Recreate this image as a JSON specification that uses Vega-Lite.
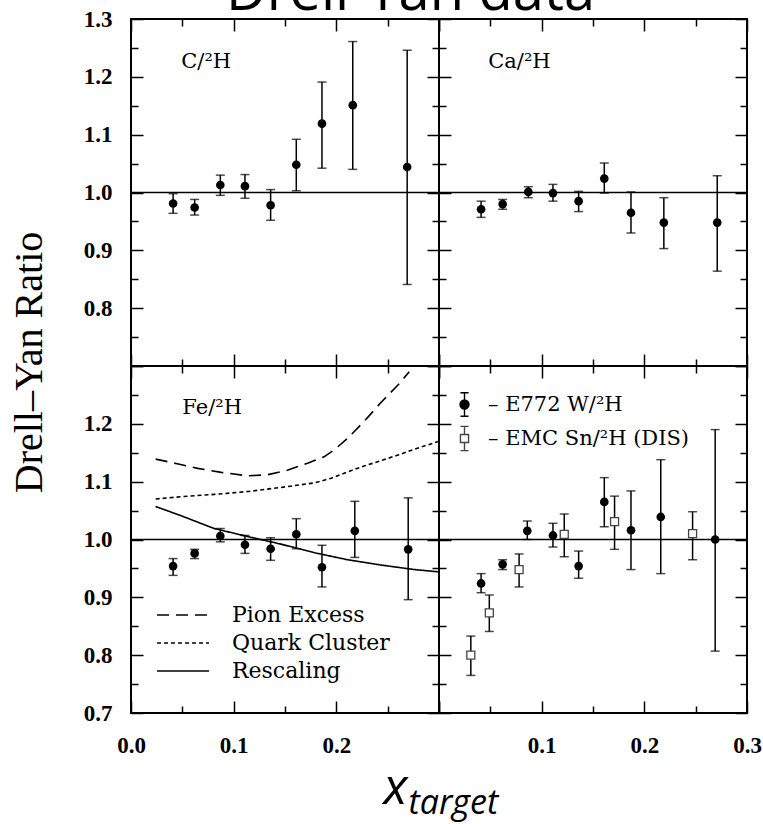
{
  "$schema": "https://vega.github.io/schema/vega-lite/v6.json",
  "background": "white",
  "padding": {"left": 8, "top": -35, "right": 10, "bottom": 5},
  "title": {"text": "Drell-Yan data", "font": "Open Sans", "fontSize": 56, "fontWeight": "normal", "color": "black", "anchor": "start", "frame": "group", "baseline": "alphabetic", "offset": -59, "dx": 95},
  "datasets": {
    "dy": [
      {"panel": "C", "series": "E772", "x": 0.041, "y": 0.981, "lo": 0.964, "hi": 0.998},
      {"panel": "C", "series": "E772", "x": 0.062, "y": 0.974, "lo": 0.961, "hi": 0.988},
      {"panel": "C", "series": "E772", "x": 0.087, "y": 1.013, "lo": 0.995, "hi": 1.030},
      {"panel": "C", "series": "E772", "x": 0.111, "y": 1.011, "lo": 0.990, "hi": 1.031},
      {"panel": "C", "series": "E772", "x": 0.136, "y": 0.978, "lo": 0.952, "hi": 1.005},
      {"panel": "C", "series": "E772", "x": 0.161, "y": 1.048, "lo": 1.003, "hi": 1.092},
      {"panel": "C", "series": "E772", "x": 0.186, "y": 1.119, "lo": 1.042, "hi": 1.191},
      {"panel": "C", "series": "E772", "x": 0.216, "y": 1.151, "lo": 1.040, "hi": 1.261},
      {"panel": "C", "series": "E772", "x": 0.269, "y": 1.044, "lo": 0.841, "hi": 1.246},
      {"panel": "Ca", "series": "E772", "x": 0.041, "y": 0.971, "lo": 0.957, "hi": 0.985},
      {"panel": "Ca", "series": "E772", "x": 0.062, "y": 0.980, "lo": 0.971, "hi": 0.988},
      {"panel": "Ca", "series": "E772", "x": 0.087, "y": 1.001, "lo": 0.991, "hi": 1.010},
      {"panel": "Ca", "series": "E772", "x": 0.111, "y": 0.999, "lo": 0.985, "hi": 1.014},
      {"panel": "Ca", "series": "E772", "x": 0.136, "y": 0.985, "lo": 0.967, "hi": 1.002},
      {"panel": "Ca", "series": "E772", "x": 0.161, "y": 1.024, "lo": 0.999, "hi": 1.051},
      {"panel": "Ca", "series": "E772", "x": 0.187, "y": 0.965, "lo": 0.930, "hi": 1.001},
      {"panel": "Ca", "series": "E772", "x": 0.219, "y": 0.948, "lo": 0.903, "hi": 0.991},
      {"panel": "Ca", "series": "E772", "x": 0.271, "y": 0.948, "lo": 0.864, "hi": 1.029},
      {"panel": "Fe", "series": "E772", "x": 0.041, "y": 0.954, "lo": 0.938, "hi": 0.967},
      {"panel": "Fe", "series": "E772", "x": 0.062, "y": 0.976, "lo": 0.967, "hi": 0.983},
      {"panel": "Fe", "series": "E772", "x": 0.087, "y": 1.006, "lo": 0.996, "hi": 1.019},
      {"panel": "Fe", "series": "E772", "x": 0.111, "y": 0.991, "lo": 0.976, "hi": 1.007},
      {"panel": "Fe", "series": "E772", "x": 0.136, "y": 0.984, "lo": 0.964, "hi": 1.003},
      {"panel": "Fe", "series": "E772", "x": 0.161, "y": 1.009, "lo": 0.984, "hi": 1.036},
      {"panel": "Fe", "series": "E772", "x": 0.186, "y": 0.952, "lo": 0.918, "hi": 0.990},
      {"panel": "Fe", "series": "E772", "x": 0.218, "y": 1.015, "lo": 0.969, "hi": 1.066},
      {"panel": "Fe", "series": "E772", "x": 0.270, "y": 0.983, "lo": 0.896, "hi": 1.072},
      {"panel": "W", "series": "– E772 W/²H", "x": 0.041, "y": 0.924, "lo": 0.908, "hi": 0.941},
      {"panel": "W", "series": "– E772 W/²H", "x": 0.062, "y": 0.957, "lo": 0.948, "hi": 0.965},
      {"panel": "W", "series": "– E772 W/²H", "x": 0.086, "y": 1.015, "lo": 1.000, "hi": 1.032},
      {"panel": "W", "series": "– E772 W/²H", "x": 0.111, "y": 1.007, "lo": 0.987, "hi": 1.028},
      {"panel": "W", "series": "– E772 W/²H", "x": 0.136, "y": 0.954, "lo": 0.933, "hi": 0.980},
      {"panel": "W", "series": "– E772 W/²H", "x": 0.161, "y": 1.065, "lo": 1.022, "hi": 1.107},
      {"panel": "W", "series": "– E772 W/²H", "x": 0.187, "y": 1.016, "lo": 0.948, "hi": 1.084},
      {"panel": "W", "series": "– E772 W/²H", "x": 0.216, "y": 1.039, "lo": 0.941, "hi": 1.138},
      {"panel": "W", "series": "– E772 W/²H", "x": 0.269, "y": 1.000, "lo": 0.807, "hi": 1.190},
      {"panel": "W", "series": "– EMC Sn/²H (DIS)", "x": 0.031, "y": 0.800, "lo": 0.765, "hi": 0.833},
      {"panel": "W", "series": "– EMC Sn/²H (DIS)", "x": 0.049, "y": 0.873, "lo": 0.841, "hi": 0.904},
      {"panel": "W", "series": "– EMC Sn/²H (DIS)", "x": 0.078, "y": 0.948, "lo": 0.918, "hi": 0.975},
      {"panel": "W", "series": "– EMC Sn/²H (DIS)", "x": 0.122, "y": 1.009, "lo": 0.970, "hi": 1.044},
      {"panel": "W", "series": "– EMC Sn/²H (DIS)", "x": 0.171, "y": 1.031, "lo": 0.983, "hi": 1.075},
      {"panel": "W", "series": "– EMC Sn/²H (DIS)", "x": 0.247, "y": 1.010, "lo": 0.965, "hi": 1.048}
    ],
    "curves": [
      {"model": "Pion Excess", "x": 0.024, "y": 1.139},
      {"model": "Pion Excess", "x": 0.045, "y": 1.131},
      {"model": "Pion Excess", "x": 0.065, "y": 1.123},
      {"model": "Pion Excess", "x": 0.088, "y": 1.116},
      {"model": "Pion Excess", "x": 0.114, "y": 1.110},
      {"model": "Pion Excess", "x": 0.133, "y": 1.112},
      {"model": "Pion Excess", "x": 0.153, "y": 1.120},
      {"model": "Pion Excess", "x": 0.172, "y": 1.132},
      {"model": "Pion Excess", "x": 0.188, "y": 1.143},
      {"model": "Pion Excess", "x": 0.198, "y": 1.155},
      {"model": "Pion Excess", "x": 0.211, "y": 1.175},
      {"model": "Pion Excess", "x": 0.227, "y": 1.204},
      {"model": "Pion Excess", "x": 0.243, "y": 1.236},
      {"model": "Pion Excess", "x": 0.260, "y": 1.267},
      {"model": "Pion Excess", "x": 0.271, "y": 1.290},
      {"model": "Quark Cluster", "x": 0.024, "y": 1.070},
      {"model": "Quark Cluster", "x": 0.049, "y": 1.074},
      {"model": "Quark Cluster", "x": 0.081, "y": 1.078},
      {"model": "Quark Cluster", "x": 0.114, "y": 1.083},
      {"model": "Quark Cluster", "x": 0.146, "y": 1.090},
      {"model": "Quark Cluster", "x": 0.179, "y": 1.098},
      {"model": "Quark Cluster", "x": 0.195, "y": 1.106},
      {"model": "Quark Cluster", "x": 0.211, "y": 1.117},
      {"model": "Quark Cluster", "x": 0.227, "y": 1.127},
      {"model": "Quark Cluster", "x": 0.243, "y": 1.136},
      {"model": "Quark Cluster", "x": 0.260, "y": 1.146},
      {"model": "Quark Cluster", "x": 0.276, "y": 1.156},
      {"model": "Quark Cluster", "x": 0.300, "y": 1.170},
      {"model": "Rescaling", "x": 0.024, "y": 1.057},
      {"model": "Rescaling", "x": 0.049, "y": 1.041},
      {"model": "Rescaling", "x": 0.081, "y": 1.019},
      {"model": "Rescaling", "x": 0.114, "y": 1.005},
      {"model": "Rescaling", "x": 0.146, "y": 0.992},
      {"model": "Rescaling", "x": 0.179, "y": 0.977},
      {"model": "Rescaling", "x": 0.211, "y": 0.965},
      {"model": "Rescaling", "x": 0.243, "y": 0.956},
      {"model": "Rescaling", "x": 0.276, "y": 0.948},
      {"model": "Rescaling", "x": 0.300, "y": 0.944}
    ],
    "labels": [
      {"panel": "C", "label": "C/²H"},
      {"panel": "Ca", "label": "Ca/²H"},
      {"panel": "Fe", "label": "Fe/²H"}
    ]
  },
  "columns": 2,
  "spacing": 0,
  "bounds": "flush",
  "resolve": {
    "scale": {"shape": "independent", "fill": "independent", "stroke": "independent", "strokeDash": "independent"},
    "legend": {"shape": "independent", "fill": "independent", "stroke": "independent", "strokeDash": "independent"}
  },
  "concat": [
    {
      "width": 308, "height": 347,
      "layer": [
        {"data": {"values": [{"ref": 1}]}, "mark": {"type": "rule", "color": "black", "strokeWidth": 1.5},
         "encoding": {"y": {"field": "ref", "type": "quantitative", "scale": {"domain": [0.7, 1.3], "nice": false, "zero": false}, "axis": null}}},
        {"data": {"name": "labels"}, "transform": [{"filter": "datum.panel === 'C'"}],
         "mark": {"type": "text", "font": "DejaVu Serif", "fontSize": 21, "align": "left", "baseline": "alphabetic", "color": "black"},
         "encoding": {"text": {"field": "label"},
                      "x": {"datum": 0.049, "type": "quantitative", "scale": {"domain": [0, 0.3], "nice": false, "zero": false}, "axis": null},
                      "y": {"datum": 1.215, "type": "quantitative", "scale": {"domain": [0.7, 1.3], "nice": false, "zero": false}, "axis": null}}},
        {"data": {"name": "dy"}, "transform": [{"filter": "datum.panel === 'C'"}],
         "mark": {"type": "errorbar", "ticks": true, "size": 9, "thickness": 1.5, "color": "black"},
         "encoding": {
           "x": {"field": "x", "type": "quantitative", "scale": {"domain": [0, 0.3], "nice": false, "zero": false},
                 "axis": {"orient": "top", "values": [0, 0.1, 0.2, 0.3], "labels": false, "title": null}},
           "y": {"field": "lo", "type": "quantitative", "scale": {"domain": [0.7, 1.3], "nice": false, "zero": false},
                 "axis": {"orient": "right", "values": [0.7, 0.8, 0.9, 1.0, 1.1, 1.2, 1.3], "labels": false, "title": null}},
           "y2": {"field": "hi"}
         }},
        {"data": {"name": "dy"}, "transform": [{"filter": "datum.panel === 'C'"}],
         "mark": {"type": "point", "filled": true, "color": "black", "size": 75, "opacity": 1},
         "encoding": {
           "x": {"field": "x", "type": "quantitative", "scale": {"domain": [0, 0.3], "nice": false, "zero": false},
                 "axis": {"orient": "bottom", "values": [0, 0.1, 0.2, 0.3], "labels": false, "title": null}},
           "y": {"field": "y", "type": "quantitative", "scale": {"domain": [0.7, 1.3], "nice": false, "zero": false},
                 "axis": {"orient": "left", "values": [0.7, 0.8, 0.9, 1.0, 1.1, 1.2, 1.3],
                          "labelExpr": "datum.value > 0.75 ? format(datum.value, '.1f') : ''",
                          "labelPadding": 31,
                          "title": "Drell–Yan Ratio", "titleFont": "Liberation Serif", "titleFontSize": 40, "titleFontWeight": "normal",
                          "titleX": -102, "titleY": 343, "titleAngle": 270, "titleAlign": "center", "titleBaseline": "middle"}}
         }},
        {"data": {"name": "dy"}, "transform": [{"filter": "datum.panel === 'C'"}],
         "mark": {"type": "point", "opacity": 0},
         "encoding": {
           "x": {"field": "x", "type": "quantitative", "scale": {"domain": [0, 0.3], "nice": false, "zero": false},
                 "axis": {"orient": "bottom", "values": [0.05, 0.15, 0.25], "labels": false, "title": null, "tickSize": -7}},
           "y": {"field": "y", "type": "quantitative", "scale": {"domain": [0.7, 1.3], "nice": false, "zero": false},
                 "axis": {"orient": "left", "values": [0.75, 0.85, 0.95, 1.05, 1.15, 1.25], "labels": false, "title": null, "tickSize": -7}}
         }},
        {"data": {"name": "dy"}, "transform": [{"filter": "datum.panel === 'C'"}],
         "mark": {"type": "point", "opacity": 0},
         "encoding": {
           "x": {"field": "x", "type": "quantitative", "scale": {"domain": [0, 0.3], "nice": false, "zero": false},
                 "axis": {"orient": "top", "values": [0.05, 0.15, 0.25], "labels": false, "title": null, "tickSize": -7}},
           "y": {"field": "y", "type": "quantitative", "scale": {"domain": [0.7, 1.3], "nice": false, "zero": false},
                 "axis": {"orient": "right", "values": [0.75, 0.85, 0.95, 1.05, 1.15, 1.25], "labels": false, "title": null, "tickSize": -7}}
         }}
      ]
    },
    {
      "width": 308, "height": 347,
      "layer": [
        {"data": {"values": [{"ref": 1}]}, "mark": {"type": "rule", "color": "black", "strokeWidth": 1.5},
         "encoding": {"y": {"field": "ref", "type": "quantitative", "scale": {"domain": [0.7, 1.3], "nice": false, "zero": false}, "axis": null}}},
        {"data": {"name": "labels"}, "transform": [{"filter": "datum.panel === 'Ca'"}],
         "mark": {"type": "text", "font": "DejaVu Serif", "fontSize": 21, "align": "left", "baseline": "alphabetic", "color": "black"},
         "encoding": {"text": {"field": "label"},
                      "x": {"datum": 0.048, "type": "quantitative", "scale": {"domain": [0, 0.3], "nice": false, "zero": false}, "axis": null},
                      "y": {"datum": 1.215, "type": "quantitative", "scale": {"domain": [0.7, 1.3], "nice": false, "zero": false}, "axis": null}}},
        {"data": {"name": "dy"}, "transform": [{"filter": "datum.panel === 'Ca'"}],
         "mark": {"type": "errorbar", "ticks": true, "size": 9, "thickness": 1.5, "color": "black"},
         "encoding": {
           "x": {"field": "x", "type": "quantitative", "scale": {"domain": [0, 0.3], "nice": false, "zero": false},
                 "axis": {"orient": "top", "values": [0, 0.1, 0.2, 0.3], "labels": false, "title": null}},
           "y": {"field": "lo", "type": "quantitative", "scale": {"domain": [0.7, 1.3], "nice": false, "zero": false},
                 "axis": {"orient": "right", "values": [0.7, 0.8, 0.9, 1.0, 1.1, 1.2, 1.3], "labels": false, "title": null}},
           "y2": {"field": "hi"}
         }},
        {"data": {"name": "dy"}, "transform": [{"filter": "datum.panel === 'Ca'"}],
         "mark": {"type": "point", "filled": true, "color": "black", "size": 75, "opacity": 1},
         "encoding": {
           "x": {"field": "x", "type": "quantitative", "scale": {"domain": [0, 0.3], "nice": false, "zero": false},
                 "axis": {"orient": "bottom", "values": [0, 0.1, 0.2, 0.3], "labels": false, "title": null}},
           "y": {"field": "y", "type": "quantitative", "scale": {"domain": [0.7, 1.3], "nice": false, "zero": false},
                 "axis": {"orient": "left", "values": [0.7, 0.8, 0.9, 1.0, 1.1, 1.2, 1.3], "labels": false, "title": null}}
         }},
        {"data": {"name": "dy"}, "transform": [{"filter": "datum.panel === 'Ca'"}],
         "mark": {"type": "point", "opacity": 0},
         "encoding": {
           "x": {"field": "x", "type": "quantitative", "scale": {"domain": [0, 0.3], "nice": false, "zero": false},
                 "axis": {"orient": "bottom", "values": [0.05, 0.15, 0.25], "labels": false, "title": null, "tickSize": -7}},
           "y": {"field": "y", "type": "quantitative", "scale": {"domain": [0.7, 1.3], "nice": false, "zero": false},
                 "axis": {"orient": "left", "values": [0.75, 0.85, 0.95, 1.05, 1.15, 1.25], "labels": false, "title": null, "tickSize": -7}}
         }},
        {"data": {"name": "dy"}, "transform": [{"filter": "datum.panel === 'Ca'"}],
         "mark": {"type": "point", "opacity": 0},
         "encoding": {
           "x": {"field": "x", "type": "quantitative", "scale": {"domain": [0, 0.3], "nice": false, "zero": false},
                 "axis": {"orient": "top", "values": [0.05, 0.15, 0.25], "labels": false, "title": null, "tickSize": -7}},
           "y": {"field": "y", "type": "quantitative", "scale": {"domain": [0.7, 1.3], "nice": false, "zero": false},
                 "axis": {"orient": "right", "values": [0.75, 0.85, 0.95, 1.05, 1.15, 1.25], "labels": false, "title": null, "tickSize": -7}}
         }}
      ]
    },
    {
      "width": 308, "height": 347,
      "layer": [
        {"data": {"values": [{"ref": 1}]}, "mark": {"type": "rule", "color": "black", "strokeWidth": 1.5},
         "encoding": {"y": {"field": "ref", "type": "quantitative", "scale": {"domain": [0.7, 1.3], "nice": false, "zero": false}, "axis": null}}},
        {"data": {"name": "labels"}, "transform": [{"filter": "datum.panel === 'Fe'"}],
         "mark": {"type": "text", "font": "DejaVu Serif", "fontSize": 21, "align": "left", "baseline": "alphabetic", "color": "black"},
         "encoding": {"text": {"field": "label"},
                      "x": {"datum": 0.050, "type": "quantitative", "scale": {"domain": [0, 0.3], "nice": false, "zero": false}, "axis": null},
                      "y": {"datum": 1.217, "type": "quantitative", "scale": {"domain": [0.7, 1.3], "nice": false, "zero": false}, "axis": null}}},
        {"data": {"name": "curves"},
         "mark": {"type": "line", "color": "black", "strokeWidth": 1.6},
         "encoding": {
           "x": {"field": "x", "type": "quantitative", "scale": {"domain": [0, 0.3], "nice": false, "zero": false}, "axis": null},
           "y": {"field": "y", "type": "quantitative", "scale": {"domain": [0.7, 1.3], "nice": false, "zero": false}, "axis": null},
           "strokeDash": {"field": "model", "type": "nominal",
                          "scale": {"domain": ["Pion Excess", "Quark Cluster", "Rescaling"], "range": [[12, 7], [4, 3], [1, 0]]},
                          "legend": {"orient": "none", "legendX": 25, "legendY": 238, "title": null, "padding": 0, "clipHeight": 22,
                                     "symbolType": "stroke", "symbolSize": 2700, "symbolStrokeWidth": 1.6, "symbolStrokeColor": "black",
                                     "labelFont": "DejaVu Serif", "labelFontSize": 22, "labelColor": "black", "labelOffset": 22, "rowPadding": 6, "labelLimit": 400}}
         }},
        {"data": {"name": "dy"}, "transform": [{"filter": "datum.panel === 'Fe'"}],
         "mark": {"type": "errorbar", "ticks": true, "size": 9, "thickness": 1.5, "color": "black"},
         "encoding": {
           "x": {"field": "x", "type": "quantitative", "scale": {"domain": [0, 0.3], "nice": false, "zero": false},
                 "axis": {"orient": "top", "values": [0, 0.1, 0.2, 0.3], "labels": false, "title": null}},
           "y": {"field": "lo", "type": "quantitative", "scale": {"domain": [0.7, 1.3], "nice": false, "zero": false},
                 "axis": {"orient": "right", "values": [0.7, 0.8, 0.9, 1.0, 1.1, 1.2, 1.3], "labels": false, "title": null}},
           "y2": {"field": "hi"}
         }},
        {"data": {"name": "dy"}, "transform": [{"filter": "datum.panel === 'Fe'"}],
         "mark": {"type": "point", "filled": true, "color": "black", "size": 75, "opacity": 1},
         "encoding": {
           "x": {"field": "x", "type": "quantitative", "scale": {"domain": [0, 0.3], "nice": false, "zero": false},
                 "axis": {"orient": "bottom", "values": [0, 0.1, 0.2, 0.3],
                          "labelExpr": "datum.value < 0.25 ? format(datum.value, '.1f') : ''",
                          "labelPadding": 33,
                          "title": "x", "titleFont": "Open Sans", "titleFontSize": 50, "titleFontStyle": "italic", "titleFontWeight": "normal",
                          "titleX": 264, "titleY": 90, "titleAlign": "center", "titleBaseline": "alphabetic"}},
           "y": {"field": "y", "type": "quantitative", "scale": {"domain": [0.7, 1.3], "nice": false, "zero": false},
                 "axis": {"orient": "left", "values": [0.7, 0.8, 0.9, 1.0, 1.1, 1.2, 1.3],
                          "labelExpr": "datum.value < 1.25 ? format(datum.value, '.1f') : ''",
                          "labelPadding": 31, "title": null}}
         }},
        {"data": {"name": "dy"}, "transform": [{"filter": "datum.panel === 'Fe'"}],
         "mark": {"type": "point", "opacity": 0},
         "encoding": {
           "x": {"field": "x", "type": "quantitative", "scale": {"domain": [0, 0.3], "nice": false, "zero": false},
                 "axis": {"orient": "bottom", "values": [0.05, 0.15, 0.25], "labels": false, "title": null, "tickSize": -7}},
           "y": {"field": "y", "type": "quantitative", "scale": {"domain": [0.7, 1.3], "nice": false, "zero": false},
                 "axis": {"orient": "left", "values": [0.75, 0.85, 0.95, 1.05, 1.15, 1.25], "labels": false, "title": null, "tickSize": -7}}
         }},
        {"data": {"name": "dy"}, "transform": [{"filter": "datum.panel === 'Fe'"}],
         "mark": {"type": "point", "opacity": 0},
         "encoding": {
           "x": {"field": "x", "type": "quantitative", "scale": {"domain": [0, 0.3], "nice": false, "zero": false},
                 "axis": {"orient": "top", "values": [0.05, 0.15, 0.25], "labels": false, "title": null, "tickSize": -7}},
           "y": {"field": "y", "type": "quantitative", "scale": {"domain": [0.7, 1.3], "nice": false, "zero": false},
                 "axis": {"orient": "right", "values": [0.75, 0.85, 0.95, 1.05, 1.15, 1.25], "labels": false, "title": null, "tickSize": -7}}
         }}
      ]
    },
    {
      "width": 308, "height": 347,
      "layer": [
        {"data": {"values": [{"ref": 1}]}, "mark": {"type": "rule", "color": "black", "strokeWidth": 1.5},
         "encoding": {"y": {"field": "ref", "type": "quantitative", "scale": {"domain": [0.7, 1.3], "nice": false, "zero": false}, "axis": null}}},
        {"data": {"name": "dy"}, "transform": [{"filter": "datum.panel === 'W'"}],
         "mark": {"type": "errorbar", "ticks": true, "size": 9, "thickness": 1.5, "color": "black"},
         "encoding": {
           "x": {"field": "x", "type": "quantitative", "scale": {"domain": [0, 0.3], "nice": false, "zero": false},
                 "axis": {"orient": "top", "values": [0, 0.1, 0.2, 0.3], "labels": false, "title": null}},
           "y": {"field": "lo", "type": "quantitative", "scale": {"domain": [0.7, 1.3], "nice": false, "zero": false},
                 "axis": {"orient": "right", "values": [0.7, 0.8, 0.9, 1.0, 1.1, 1.2, 1.3], "labels": false, "title": null}},
           "y2": {"field": "hi"}
         }},
        {"data": {"name": "dy"}, "transform": [{"filter": "datum.panel === 'W' && indexof(datum.series, 'E772') >= 0"}],
         "mark": {"type": "point", "filled": true, "color": "black", "size": 75, "opacity": 1},
         "encoding": {
           "x": {"field": "x", "type": "quantitative", "scale": {"domain": [0, 0.3], "nice": false, "zero": false},
                 "axis": {"orient": "bottom", "values": [0, 0.1, 0.2, 0.3],
                          "labelExpr": "datum.value > 0.05 ? format(datum.value, '.1f') : ''",
                          "labelPadding": 33,
                          "title": "target", "titleFont": "Open Sans", "titleFontSize": 34, "titleFontStyle": "italic", "titleFontWeight": "normal",
                          "titleX": -31, "titleY": 100, "titleAlign": "left", "titleBaseline": "alphabetic"}},
           "y": {"field": "y", "type": "quantitative", "scale": {"domain": [0.7, 1.3], "nice": false, "zero": false},
                 "axis": {"orient": "left", "values": [0.7, 0.8, 0.9, 1.0, 1.1, 1.2, 1.3], "labels": false, "title": null}}
         }},
        {"data": {"name": "dy"}, "transform": [{"filter": "datum.panel === 'W' && indexof(datum.series, 'EMC') >= 0"}],
         "mark": {"type": "point", "shape": "square", "filled": false, "fill": "white", "stroke": "#444444", "strokeWidth": 1.3, "size": 64, "opacity": 1},
         "encoding": {
           "x": {"field": "x", "type": "quantitative", "scale": {"domain": [0, 0.3], "nice": false, "zero": false},
                 "axis": {"orient": "bottom", "values": [0.05, 0.15, 0.25], "labels": false, "title": null, "tickSize": -7}},
           "y": {"field": "y", "type": "quantitative", "scale": {"domain": [0.7, 1.3], "nice": false, "zero": false},
                 "axis": {"orient": "left", "values": [0.75, 0.85, 0.95, 1.05, 1.15, 1.25], "labels": false, "title": null, "tickSize": -7}}
         }},
        {"data": {"name": "dy"}, "transform": [{"filter": "datum.panel === 'W'"}],
         "mark": {"type": "point", "opacity": 0},
         "encoding": {
           "x": {"field": "x", "type": "quantitative", "scale": {"domain": [0, 0.3], "nice": false, "zero": false},
                 "axis": {"orient": "top", "values": [0.05, 0.15, 0.25], "labels": false, "title": null, "tickSize": -7}},
           "y": {"field": "y", "type": "quantitative", "scale": {"domain": [0.7, 1.3], "nice": false, "zero": false},
                 "axis": {"orient": "right", "values": [0.75, 0.85, 0.95, 1.05, 1.15, 1.25], "labels": false, "title": null, "tickSize": -7}}
         }},
        {"data": {"name": "dy"}, "transform": [{"filter": "datum.panel === 'W'"}],
         "mark": {"type": "point", "filled": true, "opacity": 0, "size": 324, "strokeWidth": 1.4},
         "encoding": {
           "x": {"field": "x", "type": "quantitative", "scale": {"domain": [0, 0.3], "nice": false, "zero": false}, "axis": null},
           "y": {"field": "y", "type": "quantitative", "scale": {"domain": [0.7, 1.3], "nice": false, "zero": false}, "axis": null},
           "shape": {"field": "series", "type": "nominal",
                     "scale": {"domain": ["– E772 W/²H", "– EMC Sn/²H (DIS)"],
                               "range": ["M-0.5,0A0.5,0.5,0,1,0,0.5,0A0.5,0.5,0,1,0,-0.5,0ZM0,-1.3V-0.5M0,0.5V1.3M-0.45,-1.3H0.45M-0.45,1.3H0.45",
                                         "M-0.45,-0.45H0.45V0.45H-0.45ZM0,-1.35V-0.45M0,0.45V1.35M-0.45,-1.35H0.45M-0.45,1.35H0.45"]},
                     "legend": {"orient": "none", "legendX": 15, "legendY": 28, "title": null, "padding": 0,
                                "symbolSize": 324, "symbolOpacity": 1, "symbolStrokeWidth": 1.4,
                                "labelFont": "DejaVu Serif", "labelFontSize": 21, "labelColor": "black",
                                "labelOffset": 13, "rowPadding": 4, "labelLimit": 400}},
           "fill": {"field": "series", "type": "nominal", "scale": {"domain": ["– E772 W/²H", "– EMC Sn/²H (DIS)"], "range": ["black", "white"]}, "legend": null},
           "stroke": {"field": "series", "type": "nominal", "scale": {"domain": ["– E772 W/²H", "– EMC Sn/²H (DIS)"], "range": ["black", "#444444"]}, "legend": null}
         }}
      ]
    }
  ],
  "config": {
    "view": {"stroke": "black", "strokeWidth": 2},
    "axis": {"domain": false, "grid": false, "tickSize": -12, "tickColor": "black", "tickWidth": 1.5,
             "labelFont": "Liberation Serif", "labelFontSize": 23, "labelFontWeight": "bold", "labelColor": "black",
             "labelFlush": false, "labelOverlap": false, "labelBound": false, "titleColor": "black"}
  }
}
